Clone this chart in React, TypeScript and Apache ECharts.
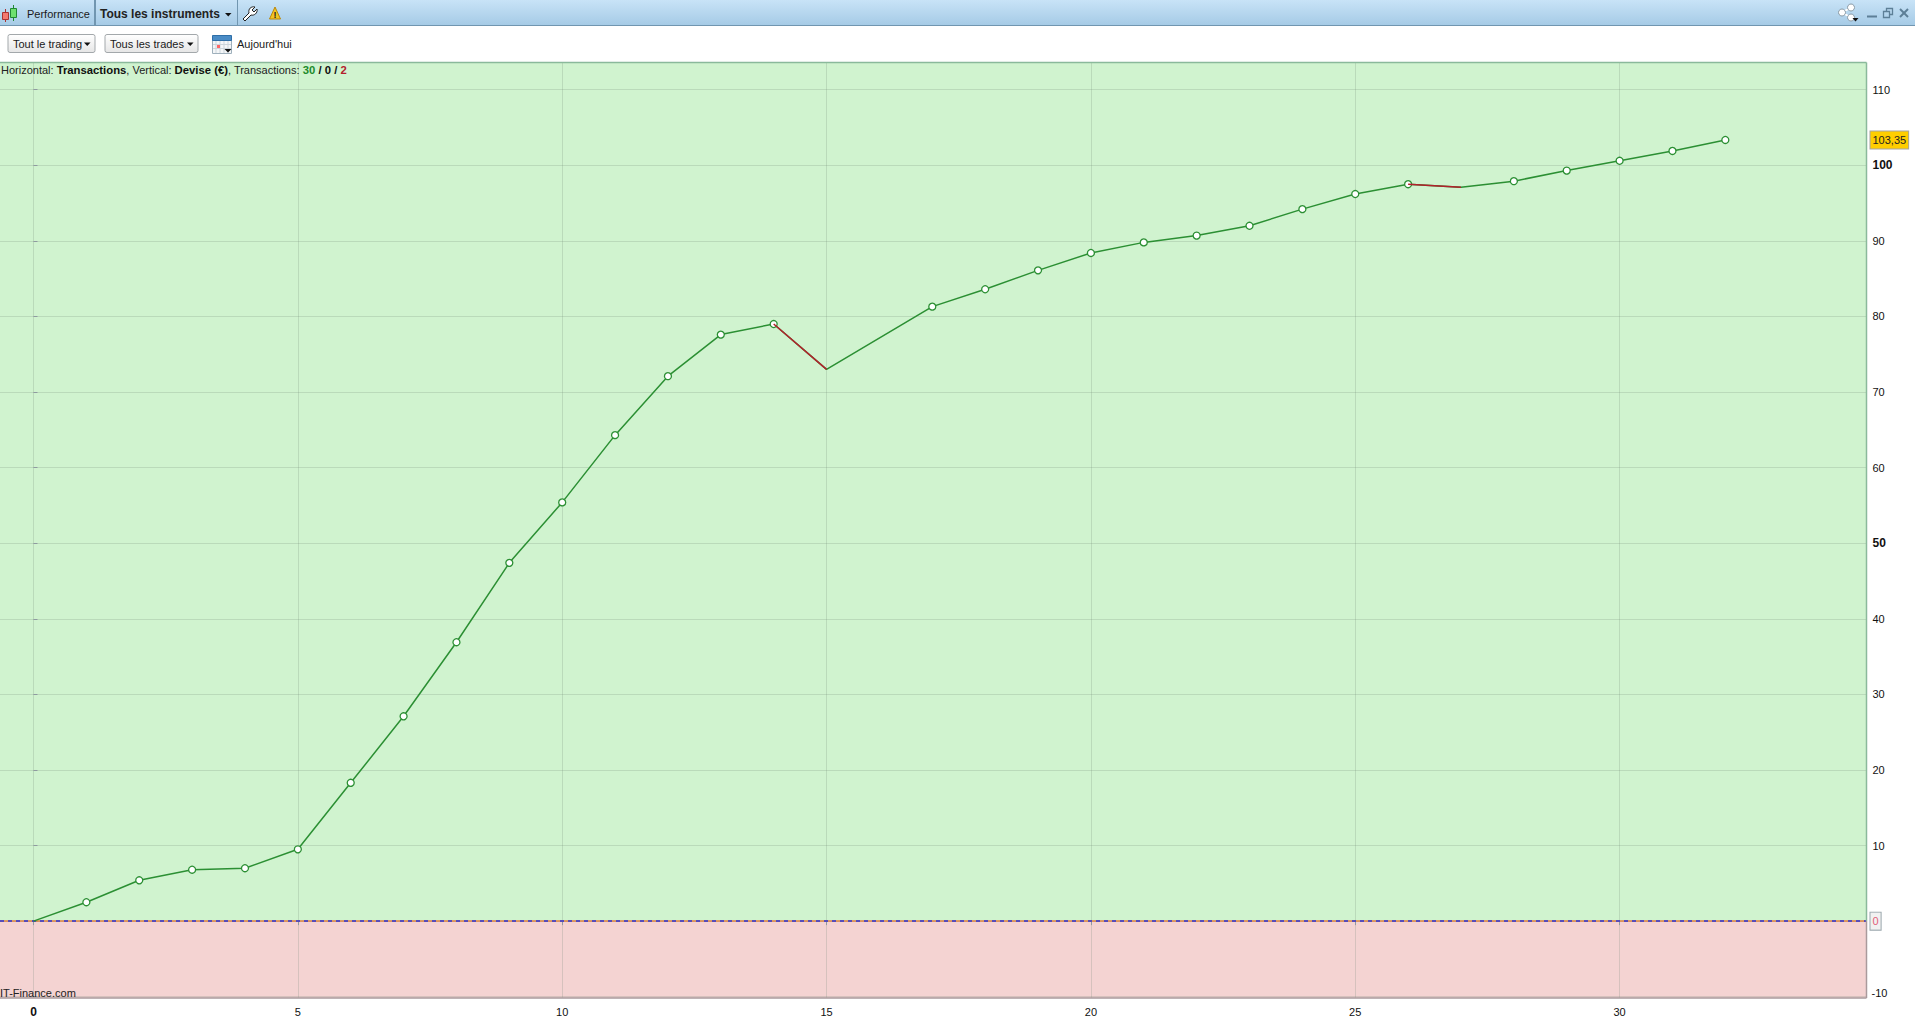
import React, { useEffect, useRef } from "react";
import * as echarts from "echarts";

const transactions = [0, 1, 2, 3, 4, 5, 6, 7, 8, 9, 10, 11, 12, 13, 14, 15, 17, 18, 19, 20, 21, 22, 23, 24, 25, 26, 27, 28, 29, 30, 31, 32];
const equity = [0, 2.5, 5.4, 6.8, 7.0, 9.5, 18.3, 27.1, 36.9, 47.4, 55.4, 64.3, 72.1, 77.6, 79.0, 73.0, 81.3, 83.6, 86.1, 88.4, 89.8, 90.7, 92.0, 94.2, 96.2, 97.5, 97.1, 97.9, 99.3, 100.6, 101.9, 103.35];
const noMarkerAt = [0, 15, 27];
const lossSegments = [[14, 15], [26, 27]];
const xTicks = [0, 5, 10, 15, 20, 25, 30];
const yTicks = [-10, 0, 10, 20, 30, 40, 50, 60, 70, 80, 90, 100, 110];
const lastValue = 103.35;
const boldY = [50, 100];

const X_MIN = -0.6336, X_MAX = 34.67, Y_MIN = -10.17, Y_MAX = 113.6;
const FONT = '"Liberation Sans", Arial, sans-serif';
const GREEN = "#2b8f33", RED = "#b3202c";

const yOf = (x: number) => equity[transactions.indexOf(x)];

echarts.graphic.registerShape("wrench", echarts.graphic.extendPath(
  "M2 14 L8 8 C7 4 10 1 14 2 L11 5 L13 7 L16 4 C17 8 13 11 10 10 L4 16 Z", {}) as any);

function chrome(): any[] {
  const t = (x: number, y: number, text: string, extra: any = {}) => ({
    type: "text", x, y, silent: true,
    style: { text, font: `11px ${FONT}`, fill: "#1a1a1a", textVerticalAlign: "middle", ...extra },
  });
  const btn = (x: number, w: number, text: string) => ([
    { type: "rect", shape: { x, y: 34.5, width: w, height: 18, r: 2 }, style: { fill: new echarts.graphic.LinearGradient(0, 0, 0, 1, [{ offset: 0, color: "#ffffff" }, { offset: 1, color: "#e6e6e6" }]), stroke: "#a3a8ab" } },
    t(x + 5, 44, text),
    { type: "polygon", shape: { points: [[x + w - 11, 42.5], [x + w - 4.5, 42.5], [x + w - 7.75, 46]] }, style: { fill: "#111" } },
  ]);
  const calGrid = [216, 220, 224, 228];
  const frame = (x1: number, y1: number, x2: number, y2: number, stroke: string) => ({
    type: "line", z: 9, silent: true, shape: { x1, y1, x2, y2 }, style: { stroke, lineWidth: 1.5 },
  });
  return [
    { type: "rect", shape: { x: 0, y: 0, width: 1915, height: 25 }, style: { fill: new echarts.graphic.LinearGradient(0, 0, 0, 1, [{ offset: 0, color: "#c8e3f7" }, { offset: 1, color: "#a6cbe6" }]) } },
    { type: "line", shape: { x1: 0, y1: 25.5, x2: 1915, y2: 25.5 }, style: { stroke: "#7196b0", lineWidth: 1 } },
    { type: "line", shape: { x1: 95, y1: 0, x2: 95, y2: 25 }, style: { stroke: "#7196b0", lineWidth: 2 } },
    { type: "line", shape: { x1: 237.5, y1: 0, x2: 237.5, y2: 25 }, style: { stroke: "#7196b0", lineWidth: 1 } },
    // plot frame
    frame(0, 62.5, 1866.5, 62.5, "#8ab99b"),
    frame(1866.5, 62.5, 1866.5, 921, "#8ab99b"),
    frame(1866.5, 921, 1866.5, 998, "#a99a9c"),
    frame(0, 998, 1866.5, 998, "#a99a9c"),
    // candles
    { type: "line", shape: { x1: 5.5, y1: 9, x2: 5.5, y2: 22 }, style: { stroke: "#a33", lineWidth: 1 } },
    { type: "rect", shape: { x: 2.5, y: 12.5, width: 6, height: 7 }, style: { fill: "#f47a70", stroke: "#a33" } },
    { type: "line", shape: { x1: 13.5, y1: 5, x2: 13.5, y2: 21 }, style: { stroke: "#283", lineWidth: 1 } },
    { type: "rect", shape: { x: 10.5, y: 8.5, width: 6, height: 9 }, style: { fill: "#6fe06f", stroke: "#283" } },
    t(27, 14, "Performance"),
    t(100, 14, "Tous les instruments", { font: `bold 12px ${FONT}`, fill: "#222" }),
    { type: "polygon", shape: { points: [[225, 13], [231.5, 13], [228.25, 16.5]] }, style: { fill: "#111" } },
    { type: "wrench", x: 241, y: 5, style: { fill: "#fff", stroke: "#222", lineWidth: 1 } },
    { type: "polygon", shape: { points: [[269.5, 19], [275, 7], [280.5, 19]] }, style: { fill: "#f3c420", stroke: "#b8860b" } },
    { type: "text", x: 275, y: 14.5, style: { text: "!", font: `bold 9px ${FONT}`, fill: "#222", textAlign: "center", textVerticalAlign: "middle" } },
    // share
    { type: "line", shape: { x1: 1842, y1: 12.5, x2: 1851, y2: 7.5 }, style: { stroke: "#fff", lineWidth: 2 } },
    { type: "line", shape: { x1: 1842, y1: 12.5, x2: 1851, y2: 17.5 }, style: { stroke: "#fff", lineWidth: 2 } },
    { type: "circle", shape: { cx: 1842, cy: 12.5, r: 3.5 }, style: { fill: "#fff", stroke: "#8a9aa5" } },
    { type: "circle", shape: { cx: 1851, cy: 7.5, r: 3.5 }, style: { fill: "#fff", stroke: "#8a9aa5" } },
    { type: "circle", shape: { cx: 1851, cy: 17.5, r: 3.5 }, style: { fill: "#fff", stroke: "#8a9aa5" } },
    { type: "polygon", shape: { points: [[1852.5, 18], [1858.5, 18], [1855.5, 21.5]] }, style: { fill: "#111" } },
    // window buttons
    { type: "line", shape: { x1: 1867, y1: 16.5, x2: 1877, y2: 16.5 }, style: { stroke: "#5d7f97", lineWidth: 2 } },
    { type: "rect", shape: { x: 1883.5, y: 11.5, width: 6, height: 6 }, style: { fill: "none", stroke: "#5d7f97", lineWidth: 1.3 } },
    { type: "polyline", shape: { points: [[1886.5, 11], [1886.5, 8.5], [1892.5, 8.5], [1892.5, 14.5], [1890, 14.5]] }, style: { fill: "none", stroke: "#5d7f97", lineWidth: 1.3 } },
    { type: "line", shape: { x1: 1900, y1: 9, x2: 1908, y2: 17 }, style: { stroke: "#5d7f97", lineWidth: 2 } },
    { type: "line", shape: { x1: 1908, y1: 9, x2: 1900, y2: 17 }, style: { stroke: "#5d7f97", lineWidth: 2 } },
    // second row
    ...btn(8, 87, "Tout le trading"),
    ...btn(105, 93, "Tous les trades"),
    { type: "rect", shape: { x: 212.5, y: 37.5, width: 19, height: 16 }, style: { fill: "#f4f6f8", stroke: "#9fb0bc" } },
    ...calGrid.map((x) => ({ type: "line", shape: { x1: x, y1: 41, x2: x, y2: 53 }, style: { stroke: "#ccd5db", lineWidth: 1 } })),
    ...[44.5, 48.5].map((y) => ({ type: "line", shape: { x1: 213, y1: y, x2: 231, y2: y }, style: { stroke: "#ccd5db", lineWidth: 1 } })),
    { type: "rect", shape: { x: 212.5, y: 35.5, width: 19, height: 5 }, style: { fill: "#4a8cc6", stroke: "#2f6fa8" } },
    { type: "rect", shape: { x: 217, y: 45, width: 3, height: 3 }, style: { fill: "#f66" } },
    { type: "polygon", shape: { points: [[224.5, 49], [231.5, 49], [228, 52.5]] }, style: { fill: "#111" } },
    t(237, 44, "Aujourd'hui"),
    // information line
    {
      type: "text", x: 1, y: 70, silent: true, z: 10,
      style: {
        text: "{n|Horizontal: }{b|Transactions}{n|, Vertical: }{b|Devise (€)}{n|, Transactions: }{g|30}{b| / 0 / }{r|2}",
        font: `11px ${FONT}`, textVerticalAlign: "middle",
        rich: {
          n: { font: `11px ${FONT}`, fill: "#222" },
          b: { font: `bold 11.3px ${FONT}`, fill: "#111" },
          g: { font: `bold 11.3px ${FONT}`, fill: "#1d8a2b" },
          r: { font: `bold 11.3px ${FONT}`, fill: "#b3202c" },
        },
      },
    },
    { type: "text", x: 0, y: 992.5, silent: true, z: 10, style: { text: "IT-Finance.com", font: `11px ${FONT}`, fill: "#222", textVerticalAlign: "middle" } },
  ];
}

export default function App() {
  const ref = useRef<HTMLDivElement>(null);
  useEffect(() => {
    document.body.style.margin = "0";
    const chart = echarts.init(ref.current!, undefined, { renderer: "svg" });
    const axisColor = "#8f9aa0";
    const gridLine = { show: true, lineStyle: { color: "rgba(110,130,115,0.22)", width: 1 } };
    const lineData = transactions.map((x, i) => ({
      value: [x, equity[i]],
      symbol: noMarkerAt.includes(x) ? "none" : "circle",
    }));
    chart.setOption({
      animation: false,
      backgroundColor: "#ffffff",
      textStyle: { fontFamily: FONT },
      grid: { left: 0, right: 48.5, top: 62.5, bottom: 20, show: true, backgroundColor: "#d0f3cf", borderWidth: 0, z: 0 },
      xAxis: {
        type: "value", min: X_MIN, max: X_MAX, z: 3,
        axisLine: { show: false },
        axisTick: { show: true, length: 4, lineStyle: { color: axisColor }, customValues: xTicks },
        axisLabel: {
          margin: 8, fontSize: 11, color: "#111", customValues: xTicks,
          formatter: (v: number) => (v === 0 ? `{b|${v}}` : `${v}`),
          rich: { b: { fontWeight: "bold", fontSize: 12, color: "#111" } },
        },
        splitLine: gridLine,
      },
      yAxis: {
        type: "value", position: "right", min: Y_MIN, max: Y_MAX, z: 3,
        axisLine: { show: false },
        axisTick: { show: true, length: 4, lineStyle: { color: axisColor }, customValues: yTicks },
        axisLabel: {
          margin: 4, fontSize: 11, color: "#111", customValues: [...yTicks, lastValue],
          formatter: (v: number) => {
            if (v === lastValue) return `{last|${String(v).replace(".", ",")}}`;
            if (v === 0) return `{zero|0}`;
            if (v === -10) return `{low|${v}}`;
            return boldY.includes(v) ? `{b|${v}}` : `{p|${v}}`;
          },
          rich: {
            p: { fontSize: 11, color: "#111", padding: [0, 0, 0, 2] },
            low: { fontSize: 11, color: "#111", padding: [0, 0, 7, 1] },
            b: { fontWeight: "bold", fontSize: 12, color: "#111", padding: [0, 0, 0, 2] },
            last: { backgroundColor: "#ffce00", borderColor: "#a5a5a5", borderWidth: 1, padding: [3, 2, 3, 2], fontSize: 11, color: "#222" },
            zero: { backgroundColor: "#f1f1f1", borderColor: "#9aa7ad", borderWidth: 1, padding: [3, 2, 3, 2], fontSize: 11, color: "#e2607a" },
          },
        },
        splitLine: gridLine,
      },
      series: [
        {
          type: "line", z: 1, silent: true, data: [], symbol: "none",
          markArea: {
            silent: true, z: 1,
            itemStyle: { color: "#f4d3d2", borderWidth: 0 },
            data: [[{ yAxis: Y_MIN }, { yAxis: 0 }]],
          },
        },
        {
          type: "line", z: 5, silent: true, data: [], symbol: "none",
          markLine: {
            silent: true, symbol: "none", label: { show: false }, animation: false,
            data: [
              { yAxis: 0, lineStyle: { color: "#e0803f", type: "solid", width: 1.5 } },
              { yAxis: 0, lineStyle: { color: "#2a35d8", type: [4, 4], width: 1.5 } },
            ],
          },
        },
        {
          type: "line", z: 6, silent: true, data: lineData, showSymbol: true, symbolSize: 7, clip: false,
          showAllSymbol: true, connectNulls: false,
          lineStyle: { color: GREEN, width: 1.5 },
          itemStyle: { color: "#ffffff", borderColor: GREEN, borderWidth: 1.3 },
        },
        ...lossSegments.map(([a, b]) => ({
          type: "line", z: 7, silent: true, symbol: "none",
          data: [[a, yOf(a)], [b, yOf(b)]],
          lineStyle: { color: RED, width: 1.5 },
        })),
      ],
      graphic: { elements: chrome() },
    });
    return () => chart.dispose();
  }, []);
  return <div ref={ref} style={{ width: 1915, height: 1018, position: "absolute", left: 0, top: 0 }} />;
}
